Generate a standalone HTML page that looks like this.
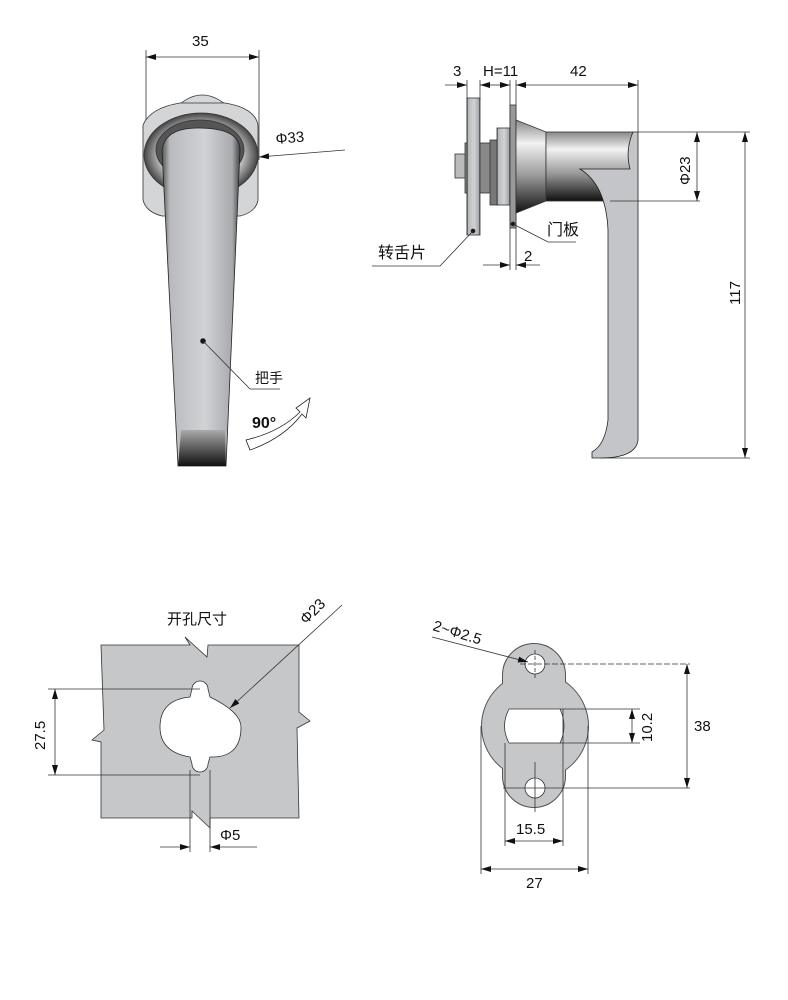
<!DOCTYPE html>
<html><head><meta charset="utf-8"><style>
html,body{margin:0;padding:0;background:#fff}
svg{display:block}
text{font-family:"Liberation Sans","Noto Sans CJK SC",sans-serif;fill:#111}
</style></head><body>
<svg width="788" height="1000" viewBox="0 0 788 1000" xmlns="http://www.w3.org/2000/svg">
<defs>
<marker id="a" viewBox="0 0 10 6" refX="10" refY="3" markerWidth="10" markerHeight="6" orient="auto-start-reverse" markerUnits="userSpaceOnUse"><path d="M0,0L10,3L0,6z" fill="#111"/></marker>
<linearGradient id="hg" x1="0" x2="1"><stop offset="0" stop-color="#555"/><stop offset=".1" stop-color="#b8babd"/><stop offset=".55" stop-color="#d0d2d5"/><stop offset=".9" stop-color="#a8aaae"/><stop offset="1" stop-color="#444"/></linearGradient>
<linearGradient id="bot" x1="0" y1="0" x2="0" y2="1"><stop offset="0" stop-color="#aaa"/><stop offset="1" stop-color="#111"/></linearGradient>
<linearGradient id="cyl" x1="0" y1="0" x2="0" y2="1"><stop offset="0" stop-color="#888"/><stop offset=".25" stop-color="#f2f2f2"/><stop offset=".6" stop-color="#999"/><stop offset="1" stop-color="#111"/></linearGradient>
<radialGradient id="ring"><stop offset=".7" stop-color="#ccc"/><stop offset="1" stop-color="#444"/></radialGradient>
</defs>
<g stroke="#333" stroke-width="0.8" fill="none">
<!-- top-left view -->
<line x1="146" y1="50" x2="146" y2="205"/><line x1="259" y1="50" x2="259" y2="160"/>
<line x1="146" y1="57" x2="259" y2="57" marker-start="url(#a)" marker-end="url(#a)"/>
<path d="M180,104 Q202,86 225,104Z" fill="#d6d7d9"/>
<path d="M143,125 Q150,108 180,103 L225,103 Q255,108 258,125 L258,200 Q256,212 240,216 L162,216 Q146,212 143,200Z" fill="#d4d5d7"/>
<ellipse cx="201" cy="155" rx="57" ry="42" fill="url(#ring)"/>
<ellipse cx="200" cy="150" rx="44" ry="30" fill="#555"/>
<path d="M162,150 Q165,128 198,128 Q240,128 240,150 L226,466 L178,466Z" fill="url(#hg)" stroke="#222"/>
<path d="M181,430 L225,430 L226,466 L178,466Z" fill="url(#bot)" stroke="none"/>
<line x1="259" y1="157" x2="345" y2="150" marker-start="url(#a)"/>
<circle cx="203" cy="341" r="2.5" fill="#111"/>
<polyline points="203,341 250,389 280,389"/>
<path d="M246,440 Q280,432 300,412 L296,408 L310,398 L306,418 L302,414 Q284,438 250,450Z" fill="#fff" stroke="#222"/>
<!-- top-right view -->
<line x1="467" y1="80" x2="467" y2="235"/><line x1="480" y1="80" x2="480" y2="100"/>
<line x1="510" y1="80" x2="510" y2="270"/><line x1="516" y1="80" x2="516" y2="270"/>
<line x1="638" y1="80" x2="638" y2="132"/>
<line x1="445" y1="85" x2="467" y2="85" marker-end="url(#a)"/>
<line x1="480" y1="85" x2="495" y2="85" marker-start="url(#a)"/>
<line x1="495" y1="85" x2="510" y2="85" marker-end="url(#a)"/>
<line x1="516" y1="85" x2="638" y2="85" marker-start="url(#a)" marker-end="url(#a)"/>
<rect x="455" y="154" width="12" height="24" fill="#bbb"/>
<rect x="465" y="143" width="30" height="50" fill="#888"/>
<rect x="467" y="98" width="13" height="137" fill="url(#hg)"/>
<rect x="490" y="140" width="8" height="65" fill="#777"/>
<rect x="497" y="128" width="13" height="77" fill="url(#hg)"/>
<rect x="510" y="105" width="6" height="123" fill="#999"/>
<path d="M516,120 L546,132 L546,201 L516,213Z" fill="url(#cyl)"/>
<rect x="546" y="132" width="87" height="69" fill="url(#cyl)"/>
<path d="M633,132 L638,132 L638,440 Q636,458 600,458 L592,458 L592,452 Q605,445 608,420 L608,230 Q606,185 580,169 L630,169 Q625,150 633,132Z" fill="#c4c5c8" stroke="#222"/>
<line x1="638" y1="132" x2="750" y2="132"/><line x1="610" y1="201" x2="700" y2="201"/>
<line x1="600" y1="458" x2="750" y2="458"/>
<line x1="697" y1="132" x2="697" y2="201" marker-start="url(#a)" marker-end="url(#a)"/>
<line x1="745" y1="132" x2="745" y2="458" marker-start="url(#a)" marker-end="url(#a)"/>
<circle cx="513" cy="224" r="2" fill="#111"/><polyline points="513,224 548,242 576,242"/>
<circle cx="473" cy="231" r="2" fill="#111"/><polyline points="473,231 440,266 372,266"/>
<line x1="483" y1="265" x2="510" y2="265" marker-end="url(#a)"/>
<line x1="516" y1="265" x2="540" y2="265" marker-start="url(#a)"/>
<!-- bottom-left -->
<path d="M101,645 L190,645 L185,637 L207,657 L208,645 L299,645 L299,712 L310,721 L297,728 L299,818 L210,818 L210,828 L192,811 L192,818 L101,818 L101,742 L92,740 L104,730 L101,645Z" fill="#c6c7c9"/>
<path d="M192,689 A8,8 0 1 1 208,689 L210,697 Q241,712 241,727 Q241,758 210,757 L208,764 A8,8 0 1 1 192,764 L190,757 Q160,752 160,727 Q160,700 190,697Z" fill="#fff"/>
<line x1="190" y1="770" x2="190" y2="852"/><line x1="210" y1="770" x2="210" y2="852"/>
<line x1="48" y1="689" x2="200" y2="689"/><line x1="48" y1="775" x2="200" y2="775"/>
<line x1="55" y1="689" x2="55" y2="775" marker-start="url(#a)" marker-end="url(#a)"/>
<line x1="160" y1="847" x2="190" y2="847" marker-end="url(#a)"/>
<line x1="210" y1="847" x2="257" y2="847" marker-start="url(#a)"/>
<line x1="342" y1="605" x2="230" y2="708" marker-end="url(#a)"/>
<!-- bottom-right -->
<g stroke="#555" stroke-width="2" fill="#555">
<circle cx="535" cy="726" r="53"/>
<rect x="503" y="644" width="62" height="163" rx="31"/>
</g>
<g stroke="none" fill="#c6c7c9">
<circle cx="535" cy="726" r="53"/>
<rect x="503" y="644" width="62" height="163" rx="31"/>
</g>
<path d="M509,709 L560,709 Q568,726 560,743 L509,743 Q500,726 509,709Z" fill="#fff"/>
<circle cx="535" cy="664" r="10" fill="#fff"/><circle cx="535" cy="788" r="10" fill="#fff"/>
<line x1="535" y1="650" x2="535" y2="680" stroke-dasharray="4,2"/><line x1="520" y1="664" x2="690" y2="664" stroke-dasharray="6,2"/>
<line x1="535" y1="762" x2="535" y2="812"/>
<line x1="503" y1="788" x2="690" y2="788"/>
<line x1="560" y1="709" x2="640" y2="709"/><line x1="560" y1="743" x2="640" y2="743"/>
<line x1="632" y1="709" x2="632" y2="743" marker-start="url(#a)" marker-end="url(#a)"/>
<line x1="687" y1="664" x2="687" y2="788" marker-start="url(#a)" marker-end="url(#a)"/>
<line x1="505" y1="743" x2="505" y2="846"/><line x1="563" y1="709" x2="563" y2="846"/>
<line x1="481" y1="726" x2="481" y2="874"/><line x1="588" y1="726" x2="588" y2="874"/>
<line x1="505" y1="841" x2="563" y2="841" marker-start="url(#a)" marker-end="url(#a)"/>
<line x1="481" y1="869" x2="588" y2="869" marker-start="url(#a)" marker-end="url(#a)"/>
<line x1="432" y1="637" x2="528" y2="662" marker-end="url(#a)"/>
</g>
<g font-size="15">
<text x="192" y="46">35</text>
<text x="276" y="144" transform="rotate(-5 276 144)">Φ33</text>
<text x="255" y="383" font-size="14">把手</text>
<text x="252" y="428" font-weight="bold" font-size="16">90°</text>
<text x="453" y="76">3</text>
<text x="483" y="76">H=11</text>
<text x="570" y="76">42</text>
<text x="547" y="235" font-size="16">门板</text>
<text x="378" y="258" font-size="16">转舌片</text>
<text x="524" y="261">2</text>
<text x="690" y="185" transform="rotate(-90 690 185)">Φ23</text>
<text x="740" y="305" transform="rotate(-90 740 305)">117</text>
<text x="167" y="624" font-size="15">开孔尺寸</text>
<text x="306" y="625" transform="rotate(-45 306 625)">Φ23</text>
<text x="45" y="750" transform="rotate(-90 45 750)">27.5</text>
<text x="220" y="840">Φ5</text>
<text x="432" y="630" transform="rotate(17 432 630)">2~Φ2.5</text>
<text x="652" y="742" transform="rotate(-90 652 742)">10.2</text>
<text x="694" y="731">38</text>
<text x="516" y="834">15.5</text>
<text x="526" y="888">27</text>
</g>
</svg>
</body></html>
